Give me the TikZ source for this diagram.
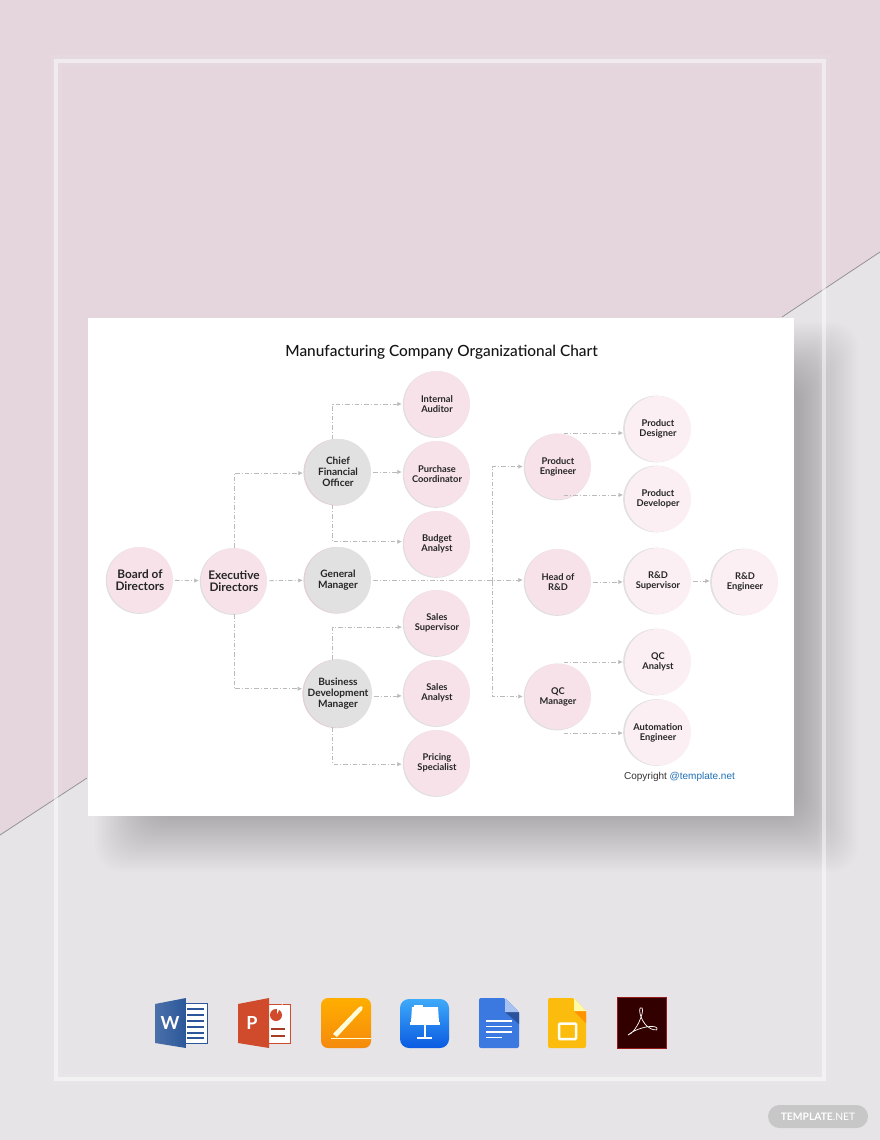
\documentclass[tikz,border=0pt]{standalone}
\usepackage{fontspec}
\setmainfont{Lato}
\newfontfamily\titlefont{Lato Medium}
\newfontfamily\arialfont{Liberation Sans}
\usetikzlibrary{arrows.meta,shadows}
\definecolor{bgpink}{HTML}{E4D6DC}
\definecolor{bggrey}{HTML}{E6E4E6}
\definecolor{nodepink}{HTML}{F7E2E9}
\definecolor{nodelight}{HTML}{FBEFF4}
\definecolor{nodegrey}{HTML}{E2E1E1}
\definecolor{linkgrey}{HTML}{BBBBBB}
\definecolor{wordblue}{HTML}{2B579A}
\definecolor{pptred}{HTML}{D04A2C}
\definecolor{docsblue}{HTML}{3B78E0}
\definecolor{slidesyellow}{HTML}{FBBC0E}
\begin{document}
\begin{tikzpicture}[x=1pt,y=-1pt]

      \tikzset{person/.style={circle, inner sep=0pt, minimum size=66pt, align=center, text=black!85, font=\fontsize{9.3pt}{10pt}\selectfont\bfseries},
        pinkperson/.style={person, fill=nodepink, general shadow={fill=black!13, shadow xshift=-.9pt, shadow yshift=-.5pt, shadow scale=1.01}},
        lightperson/.style={person, fill=nodelight, general shadow={fill=black!12, shadow xshift=-1.5pt, shadow yshift=0pt, shadow scale=1.01}},
        greyperson/.style={person, fill=nodegrey, font=\fontsize{10.1pt}{11pt}\selectfont\bfseries, general shadow={fill=nodepink!92!black, shadow xshift=-1.2pt, shadow yshift=-.3pt, shadow scale=1.01}},
        bigname/.style={font=\fontsize{11.8pt}{12.5pt}\selectfont\bfseries},
        link/.style={draw=linkgrey, line width=.8pt, dash pattern=on 4.5pt off 2pt on 1pt off 2pt, shorten >=2pt, shorten <=2pt, -{Latex[length=4.5pt,width=4.5pt]}},
        iconline/.style={line width=1.1pt, line cap=butt}}
\useasboundingbox (0,0) rectangle (880,1140);
%% Background
      	\fill[bggrey] (0,0) rectangle (880,1140);
      	\fill[bgpink] (0,0) -- (880,0) -- (880,252) -- (0,835) -- cycle;
      	\draw[black!45, line width=.7pt] (880,252) -- (782,317);
      	\draw[black!45, line width=.7pt] (87,778) -- (0,835);
      	\foreach \i in {0,...,29}
      		\fill[black, opacity=.0075, rounded corners=26pt] (95+2*\i,322+2*\i) rectangle (858-2*\i,872-2*\i);
      	\fill[white] (88,318) rectangle (794,816);
      	\draw[white, opacity=.06, line width=11pt] (56,61) rectangle (824,1079);
      	\draw[white, opacity=.5, line width=4pt] (56,61) rectangle (824,1079);
      	\node[font=\titlefont\fontsize{15.4pt}{18pt}\selectfont, text=black!92] (title) at (441.5,352) {Manufacturing Company Organizational Chart};
%% People
      	\node[pinkperson, bigname] (board) at (140,580) {Board of\\Directors};
      	\node[pinkperson, bigname] (exec) at (234,581) {Executive\\Directors};
      	\node[greyperson] (cfo) at (338,472) {Chief\\Financial\\Officer};
      	\node[greyperson] (gm) at (338,580) {General\\Manager};
      	\node[greyperson] (bdm) at (338,693.5) {Business\\Development\\Manager};
      	\node[pinkperson] (auditor) at (437,404) {Internal\\Auditor};
      	\node[pinkperson] (purchase) at (437,474) {Purchase\\Coordinator};
      	\node[pinkperson] (budget) at (437,544) {Budget\\Analyst};
      	\node[pinkperson] (salessup) at (437,623) {Sales\\Supervisor};
      	\node[pinkperson] (salesan) at (437,693) {Sales\\Analyst};
      	\node[pinkperson] (pricing) at (437,763) {Pricing\\Specialist};
      	\node[pinkperson] (prodeng) at (558,466.5) {Product\\Engineer};
      	\node[pinkperson] (headrd) at (558,582) {Head of\\R\&D};
      	\node[pinkperson] (qcman) at (558,696.5) {QC\\Manager};
      	\node[lightperson] (designer) at (658,429) {Product\\Designer};
      	\node[lightperson] (developer) at (658,499) {Product\\Developer};
      	\node[lightperson] (rdsup) at (658,581) {R\&D\\Supervisor};
      	\node[lightperson] (rdeng) at (745,582) {R\&D\\Engineer};
      	\node[lightperson] (qcan) at (658,662) {QC\\Analyst};
      	\node[lightperson] (autom) at (658,732.5) {Automation\\Engineer};
      	\coordinate (bus) at (492,581);
      	\node[font=\arialfont\fontsize{10pt}{12pt}\selectfont, text=black!80] (copy) at (679.5,776.5) {Copyright \textcolor[HTML]{1F6FB5}{@template.net}};
%Edges
		\draw[link] (board) -- (exec);
		\draw[link] (exec) -- (gm);
		\draw[link, shorten <=0pt] (exec.north) |- (cfo.182);
		\draw[link, shorten <=0pt] (exec.south) |- (bdm.172);
		\draw[link, shorten <=0pt] (cfo.99) |- (auditor.west);
		\draw[link] (cfo.east) -- (cfo.east -| purchase.west);
		\draw[link, shorten <=0pt] (cfo.261) |- (budget.176);
		\draw[link] (gm.east) -- (gm.east -| headrd.west);
		\draw[link, shorten <=0pt] (bdm.99) |- (salessup.187);
		\draw[link] (bdm.-4) -- (bdm.-4 -| salesan.west);
		\draw[link, shorten <=0pt] (bdm.261) |- (pricing.182);
		\draw[link, shorten <=0pt] (bus) |- (prodeng.west);
		\draw[link, shorten <=0pt] (bus) |- (qcman.west);
		\draw[link, shorten <=0pt] (prodeng.80 |- designer.187) -- (designer.187);
		\draw[link, shorten <=0pt] (prodeng.-80 |- developer.173) -- (developer.173);
		\draw[link] (headrd) -- (rdsup.west |- headrd);
		\draw[link] (rdsup.east) -- (rdsup.east -| rdeng.west);
		\draw[link, shorten <=0pt] (qcman.80 |- qcan.west) -- (qcan.west);
		\draw[link, shorten <=0pt] (qcman.-80 |- autom.181) -- (autom.181);
%% Word icon
		\fill[white] (186,1003) rectangle (208,1043);
		\draw[wordblue, line width=.9pt] (186,1003.5) -- (207.5,1003.5) -- (207.5,1043) -- (186,1043);
		\foreach \y in {1009,1015,1021,1027,1033,1038}
			\draw[wordblue, iconline] (187,\y) -- (204,\y);
		\shade[left color=wordblue!85!white, right color=wordblue] (155,1004) -- (186,998) -- (186,1048) -- (155,1043) -- cycle;
		\node[text=white, font=\fontsize{18pt}{20pt}\selectfont\bfseries] (wordw) at (170,1023) {W};
%% PowerPoint icon
		\fill[white] (269,1004) rectangle (291,1043);
		\draw[pptred, line width=.9pt] (269,1004) -- (290.5,1004) -- (290.5,1043) -- (269,1043);
		\fill[pptred] (276,1015) circle (6pt);
		\fill[white] (277,1014) -- (277,1008) arc (-90:0:6pt) -- cycle;
		\foreach \y in {1029,1036}
			\draw[pptred!80!black, iconline] (271,\y) -- (285,\y);
		\fill[pptred] (238,1004) -- (269,998) -- (269,1048) -- (238,1043) -- cycle;
		\node[text=white, font=\fontsize{18pt}{20pt}\selectfont\bfseries] (pptp) at (252,1023) {P};
%% Pages icon
		\shade[top color={rgb,255:red,255;green,174;blue,0}, bottom color={rgb,255:red,245;green,138;blue,12}, rounded corners=7pt] (321,998) rectangle (371,1048);
		\fill[yellow!15!white] (333,1034) -- (358,1008) .. controls (361,1005) and (364,1006) .. (362,1010) -- (337,1037) -- cycle;
		\draw[yellow!15!white, line width=1pt] (331,1038.5) -- (371,1038.5);
%% Keynote icon
		\shade[top color={rgb,255:red,62;green,170;blue,250}, bottom color={rgb,255:red,10;green,90;blue,225}, rounded corners=9pt] (400,999) rectangle (449,1048);
		\fill[white] (412,1007) -- (438,1007) -- (439,1022) -- (411,1022) -- cycle;
		\fill[white] (410,1022) rectangle (440,1024.5);
		\fill[white] (423.5,1024.5) rectangle (425.5,1037);
		\fill[white] (417,1037) rectangle (432,1039);
		\fill[white] (414,1004.5) rectangle (423,1006.5);
%% Docs icon
		\fill[docsblue, rounded corners=2pt] (479,998) -- (505,998) -- (519,1012) -- (519,1048) -- (479,1048) -- cycle;
		\fill[docsblue!70!black] (505,1012) -- (519,1012) -- (519,1024) -- cycle;
		\fill[docsblue!45!white] (505,998) -- (519,1012) -- (505,1012) -- cycle;
		\foreach \y in {1021,1026.5,1032}
			\draw[white, iconline] (486,\y) -- (512,\y);
		\draw[white, iconline] (486,1037.5) -- (502,1037.5);
%% Slides icon
		\fill[slidesyellow, rounded corners=2pt] (548,998) -- (574,998) -- (586,1011) -- (586,1048) -- (548,1048) -- cycle;
		\fill[orange!85!yellow] (574,1011) -- (586,1011) -- (586,1023) -- cycle;
		\fill[yellow!35!white] (574,998) -- (586,1011) -- (574,1011) -- cycle;
		\draw[white!95!yellow, line width=2.5pt, rounded corners=1pt] (559,1023.5) rectangle (576,1039);
%% Acrobat icon
		\fill[black!80!red] (617,997) rectangle (667,1049);
		\draw[red!55!black!90!white, line width=1.6pt] (617.5,997.5) rectangle (666.5,1048.5);
		\draw[white, line width=.7pt] (628,1035) .. controls (636,1033) and (645,1011) .. (642,1008) .. controls (639,1005) and (638,1015) .. (645,1024) .. controls (650,1030) and (659,1032) .. (657,1028) .. controls (654,1024) and (636,1028) .. (628,1035);
%% Template badge
		\fill[black!22, rounded corners=11.5pt] (768,1105) rectangle (868,1128);
		\node[text=white, font=\fontsize{10.3pt}{12pt}\selectfont] (badge) at (818,1116.5) {\textbf{TEMPLATE}.NET};

	\end{tikzpicture}
\end{document}
